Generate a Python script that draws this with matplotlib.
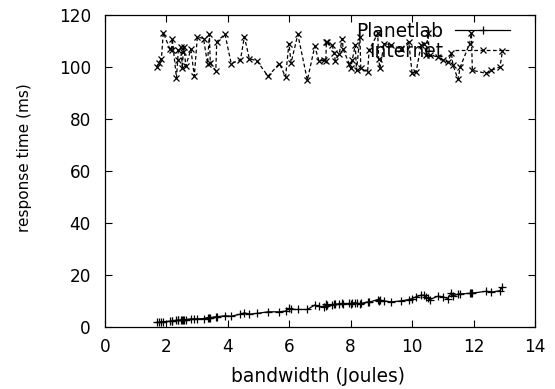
import matplotlib

matplotlib.use("Agg")

import matplotlib.pyplot as plt

# shared bandwidth values (Joules)
bandwidth = [
    1.68, 1.77, 1.84, 1.90, 2.12, 2.17, 2.19, 2.33, 2.37, 2.39,
    2.48, 2.52, 2.55, 2.58, 2.63, 2.80, 2.91, 3.01, 3.21, 3.34,
    3.40, 3.43, 3.61, 3.64, 3.91, 4.11, 4.41, 4.54, 4.70, 4.95,
    5.31, 5.68, 5.88, 5.99, 6.06, 6.28, 6.59, 6.83, 6.97, 7.13,
    7.19, 7.21, 7.24, 7.40, 7.46, 7.50, 7.62, 7.73, 7.75, 7.95,
    8.00, 8.05, 8.15, 8.19, 8.30, 8.33, 8.55, 8.60, 8.88, 8.91,
    8.95, 9.09, 9.31, 9.64, 9.89, 10.00, 10.13, 10.29, 10.40, 10.46,
    10.51, 10.57, 10.84, 11.00, 11.16, 11.28, 11.33, 11.49, 11.57, 11.87,
    11.93, 11.96, 12.42, 12.58, 12.86, 12.94,
]

internet = [
    100.1, 101.7, 103.3, 113.3, 106.8, 106.5, 111.0, 95.9, 102.7, 106.5,
    107.8, 99.5, 105.9, 107.8, 100.4, 106.8, 96.5, 111.7, 111.0, 101.4,
    112.6, 101.7, 98.6, 109.8, 112.7, 101.4, 102.7, 111.7, 103.3, 102.4,
    96.5, 101.4, 96.3, 109.1, 101.7, 112.6, 95.0, 108.0, 102.3, 102.7,
    102.4, 109.8, 109.7, 108.5, 105.3, 102.5, 105.0, 111.0, 107.0, 101.4,
    99.5, 102.7, 108.5, 98.8, 111.7, 99.5, 98.2, 106.5, 113.0, 103.3,
    99.5, 109.1, 108.5, 107.0, 109.8, 97.6, 98.2, 108.5, 109.1, 104.6,
    113.0, 104.5, 104.0, 102.7, 102.0, 105.3, 100.8, 95.4, 100.1, 109.1,
    113.0, 98.8, 97.6, 98.8, 100.1, 106.2,
]

planetlab = [
    1.8, 1.9, 2.1, 2.1, 2.3, 2.4, 2.4, 2.6, 2.7, 2.7,
    2.8, 2.8, 2.8, 2.9, 2.9, 3.2, 3.2, 3.2, 3.3, 3.7,
    3.6, 3.7, 4.0, 4.0, 4.4, 4.2, 5.0, 5.5, 5.0, 5.3,
    5.9, 5.9, 6.2, 7.2, 6.8, 6.8, 6.8, 8.5, 8.0, 7.8,
    8.2, 8.8, 8.5, 8.6, 8.8, 8.9, 8.9, 9.1, 9.0, 9.1,
    8.8, 9.3, 9.4, 9.3, 8.8, 9.1, 9.7, 9.6, 10.6, 10.1,
    10.3, 10.1, 9.7, 10.1, 10.6, 11.0, 11.7, 12.3, 12.3, 11.5,
    11.2, 10.6, 11.9, 11.7, 11.0, 13.3, 12.0, 12.7, 12.8, 13.0,
    13.3, 13.1, 13.8, 13.5, 14.0, 15.5,
]

plt.rcParams.update({"font.family": "DejaVu Sans", "font.size": 12.2})

fig = plt.figure(figsize=(5.55, 3.89), dpi=100)
ax = fig.add_axes([0.189, 0.159, 0.775, 0.802])

(pl_line,) = ax.plot(bandwidth, planetlab, color="black", linewidth=0.9, marker="+",
                     markersize=5.5, markeredgewidth=0.9, label="Planetlab")
(in_line,) = ax.plot(bandwidth, internet, color="black", linewidth=0.9,
                     linestyle=(0, (3, 2)), marker="x", markersize=4.5,
                     markeredgewidth=0.9, label="Internet")

ax.set_xlim(0, 14)
ax.set_ylim(0, 120)
ax.set_xticks(range(0, 15, 2))
ax.set_yticks(range(0, 121, 20))
ax.tick_params(axis="both", direction="in", top=True, right=True, length=5,
               width=0.8, labelsize=12.2)
ax.tick_params(axis="x", pad=8)
ax.tick_params(axis="y", pad=10)
for spine in ax.spines.values():
    spine.set_linewidth(0.9)

ax.set_xlabel("bandwidth (Joules)", fontsize=13.4)
ax.xaxis.set_label_coords(0.4965, -0.128)
ax.set_ylabel("response time (ms)", fontsize=11)
ax.yaxis.set_label_coords(-0.17, 0.543)

# gnuplot-style key: right-aligned labels with the sample to their right
leg_kw = dict(frameon=False, markerfirst=False, handlelength=2.95,
              handletextpad=0.65, borderpad=0, borderaxespad=0,
              fontsize=13.4, numpoints=1, loc="center right")
leg1 = ax.legend(handles=[pl_line], bbox_to_anchor=(0.942, 0.949), **leg_kw)
ax.add_artist(leg1)
ax.legend(handles=[in_line], bbox_to_anchor=(0.942, 0.885), **leg_kw)

fig.savefig("out.png", dpi=100)
